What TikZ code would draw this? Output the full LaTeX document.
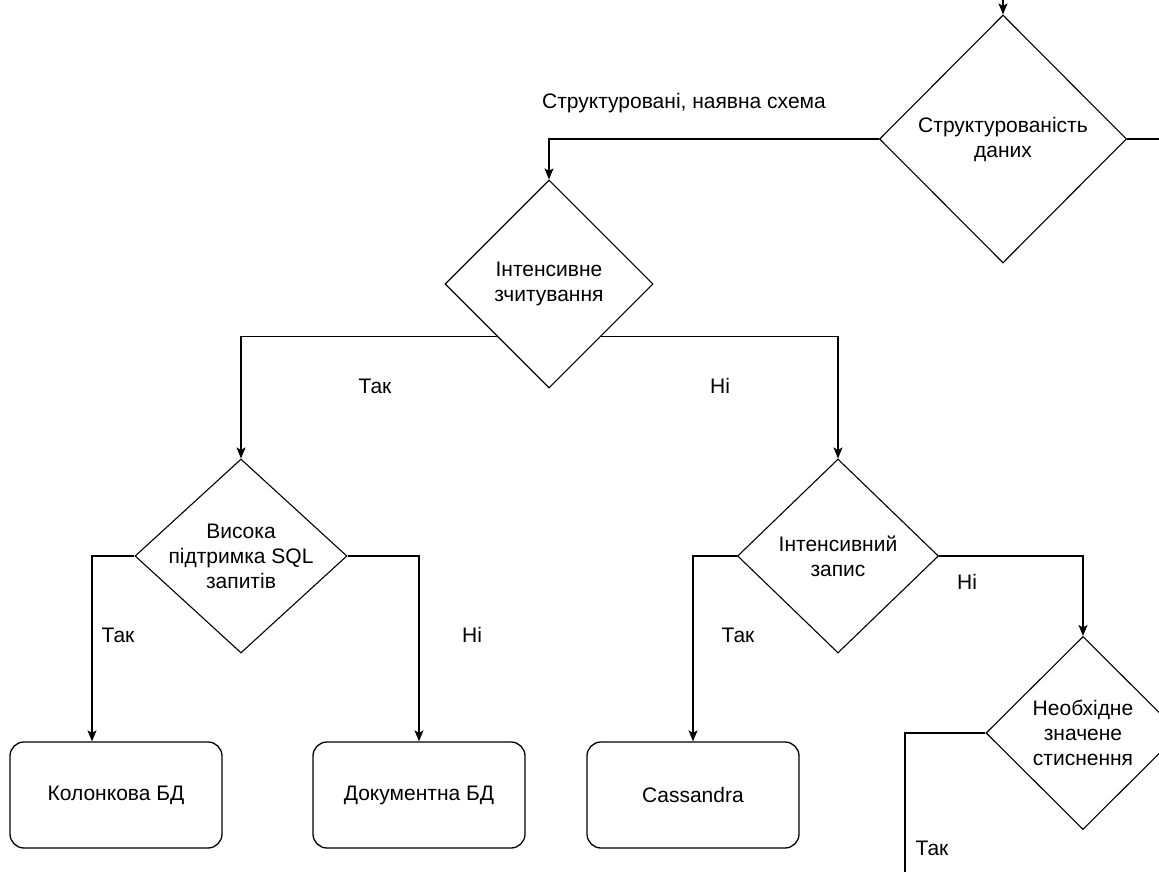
\documentclass[tikz,border=0pt]{standalone}
\usepackage{fontspec}
\setmainfont{Liberation Sans}
\usetikzlibrary{arrows.meta,shapes.geometric}

\begin{document}
\begin{tikzpicture}[x=1pt,y=-1pt,>={Stealth[length=11pt,width=9pt,inset=2.5pt]},
	every node/.style={font=\fontsize{21}{25}\selectfont},
	decision/.style={diamond,draw,fill=white,line width=1.1pt,inner sep=0pt},
	dtext/.style={align=center,inner sep=0pt},
	dbbox/.style={draw,rounded corners=14pt,line width=1.3pt,minimum width=212pt,minimum height=106pt},
	flow/.style={line width=1.3pt},
	lbl/.style={inner sep=0pt}]
	
	% --- Frame of the crop
	\useasboundingbox (0,0) rectangle (1159,872);
	\clip (0,0) rectangle (1159,872);
	
	% --- Decisions
	\node[decision,minimum width=247,minimum height=248] (struct) at (1003,139) {};
	\node[decision,minimum width=208,minimum height=208] (read) at (549,284) {};
	\node[decision,minimum width=212,minimum height=194] (sql) at (241,556) {};
	\node[decision,minimum width=201,minimum height=194] (write) at (838,556) {};
	\node[decision,minimum width=194,minimum height=193] (comp) at (1083,733) {};
	
	\node[dtext] (structtxt) at (struct) {Структурованість\\даних};
	\node[dtext] (readtxt) at (read) {Інтенсивне\\зчитування};
	\node[dtext] (sqltxt) at (sql) {Висока\\підтримка SQL\\запитів};
	\node[dtext] (writetxt) at (write) {Інтенсивний\\запис};
	\node[dtext] (comptxt) at (comp) {Необхідне\\значене\\стиснення};
	
	% --- Results
	\node[dbbox] (col) at (116,795) {Колонкова БД};
	\node[dbbox] (doc) at (419,795) {Документна БД};
	\node[dbbox] (cass) at (693,795) {Cassandra};
	
	% --- Loose ends outside the crop
	\coordinate (in) at (1003,-20);
	\coordinate (out) at (1180,139);
	\coordinate (down) at (905,900);
	
	% --- Connectors
	\draw[flow,->] (in) -- (struct.north);
	\draw[flow] (struct.east) -- (out);
	\draw[flow,->] (struct.west) -| (read.north);
	\draw[flow,->] (read.-135) -| (sql.north);
	\draw[flow,->] (read.-45) -| (write.north);
	\draw[flow,->] (sql.west) -| ([xshift=-24pt]col.north);
	\draw[flow,->] (sql.east) -| (doc.north);
	\draw[flow,->] (write.west) -| (cass.north);
	\draw[flow,->] (write.east) -| (comp.north);
	\draw[flow] (comp.west) -| (down);
	
	% --- Edge labels
	\node[lbl] (l1) at (684,103) {Структуровані, наявна схема};
	\node[lbl] (l2) at (375,386) {Так};
	\node[lbl] (l3) at (720,386) {Ні};
	\node[lbl] (l4) at (118,635) {Так};
	\node[lbl] (l5) at (472,635) {Ні};
	\node[lbl] (l6) at (738,635) {Так};
	\node[lbl] (l7) at (967,582) {Ні};
	\node[lbl] (l8) at (932,848) {Так};
	
\end{tikzpicture}
\end{document}
